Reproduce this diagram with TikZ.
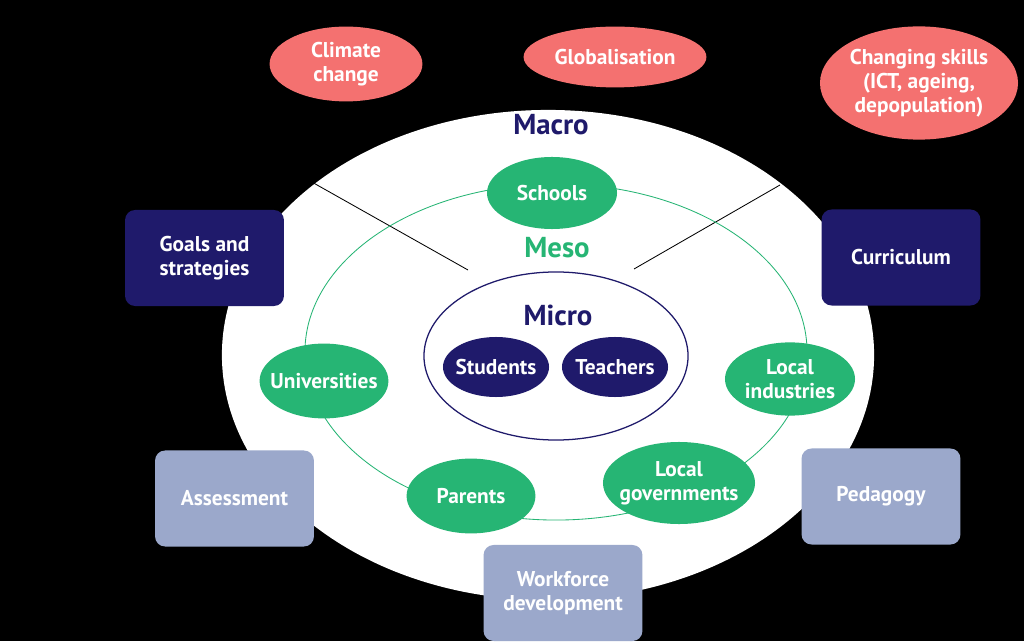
\documentclass[tikz,border=0pt]{standalone}
\usepackage{fontspec}
\setmainfont{PT Sans}
\usetikzlibrary{shapes.geometric}
\definecolor{navy}{HTML}{1F1A6B}
\definecolor{leaf}{HTML}{26B574}
\definecolor{salmon}{HTML}{F47170}
\definecolor{haze}{HTML}{9BA8CB}

\begin{document}
\begin{tikzpicture}[x=0.025cm, y=-0.025cm,
	blob/.style={ellipse, fill=#1, text=white, inner xsep=-0.3cm, inner ysep=0pt, align=center,
		font=\bfseries\fontsize{15.2}{17}\selectfont},
	tile/.style={rounded corners=0.25cm, fill=#1, text=white, align=center,
		minimum width=3.97cm, minimum height=2.4cm,
		font=\bfseries\fontsize{15.2}{17}\selectfont},
	level/.style={text=#1, font=\bfseries\fontsize{20.5}{24}\selectfont}]
		%%%%% START %%%%%
		
		\fill[black] (0, 0) rectangle (1024, 641);
		
		\node[ellipse, fill=white, minimum width=16.3cm, minimum height=12.25cm] (macro) at (548, 355) {};
		
		\coordinate (ml) at (310, 181);
		\coordinate (mr) at (780, 185);
		\draw[line width=0.6pt] (ml) -- (468, 270);
		\draw[line width=0.6pt] (mr) -- (634, 269);
		
		\node[ellipse, draw=leaf, line width=0.6pt, minimum width=12.55cm, minimum height=8.4cm] (meso) at (556, 352) {};
		\node[ellipse, draw=navy, line width=0.9pt, minimum width=6.6cm, minimum height=4.2cm] (micro) at (556, 356) {};
		
		\node[level=navy] (macrolbl) at (551, 125) {Macro};
		\node[level=leaf] (mesolbl) at (557, 248) {Meso};
		\node[level=navy] (microlbl) at (558, 315) {Micro};
		
		\node[blob=navy, minimum width=2.65cm, minimum height=1.5cm] (students) at (496, 367) {Students};
		\node[blob=navy, minimum width=2.65cm, minimum height=1.5cm] (teachers) at (615, 367) {Teachers};
		
		\node[blob=leaf, minimum width=3.25cm, minimum height=1.8cm] (schools) at (552, 193) {Schools};
		\node[blob=leaf, minimum width=3.22cm, minimum height=1.87cm] (univ) at (324, 381) {Universities};
		\node[blob=leaf, minimum width=3.25cm, minimum height=1.83cm] (industry) at (790, 379) {Local\\industries};
		\node[blob=leaf, minimum width=3.22cm, minimum height=1.87cm] (parents) at (471, 496) {Parents};
		\node[blob=leaf, minimum width=3.8cm, minimum height=2.05cm] (govern) at (679, 483) {Local\\governments};
		
		\node[tile=navy] (goals) at (204.5, 258) {Goals and\\strategies};
		\node[tile=navy] (curric) at (901, 257.5) {Curriculum};
		\node[tile=haze] (assess) at (234.5, 498.5) {Assessment};
		\node[tile=haze] (pedag) at (881, 496.5) {Pedagogy};
		\node[tile=haze] (workforce) at (563, 593) {Workforce\\development};
		
		\node[blob=salmon, minimum width=3.82cm, minimum height=1.87cm] (climate) at (346, 64) {Climate\\change};
		\node[blob=salmon, minimum width=4.57cm, minimum height=1.52cm] (global) at (615, 57) {Globalisation};
		\node[blob=salmon, minimum width=4.95cm, minimum height=2.83cm] (skills) at (919, 83) {Changing skills\\(ICT, ageing,\\depopulation)};
		
		%%%%% END %%%%%
\end{tikzpicture}
\end{document}
